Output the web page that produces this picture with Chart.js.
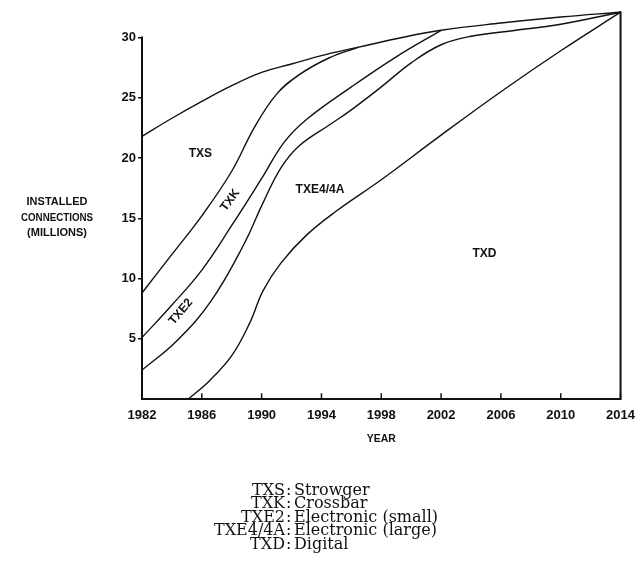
<!DOCTYPE html>
<html>
<head>
<meta charset="utf-8">
<script src="https://cdn.jsdelivr.net/npm/chart.js@4.4.1/dist/chart.umd.min.js"></script>
<style>
  html, body { margin: 0; padding: 0; background: #fff; }
  #wrap { width: 644px; height: 566px; position: relative; }
</style>
</head>
<body>
<div id="wrap"><canvas id="chart" width="644" height="566"></canvas></div>
<script>
// tick labels
const xTicks = [1982, 1986, 1990, 1994, 1998, 2002, 2006, 2010, 2014];
const yTicks = [5, 10, 15, 20, 25, 30];

// boundary curves between the exchange types (millions of connections, cumulative)
// top curve = total installed connections
const totalYears = [1982, 1984, 1986, 1988, 1990, 1992, 1994, 1996.5, 1999, 2002, 2006, 2010, 2014];
const totalValues = [21.8, 23.3, 24.7, 26.0, 27.1, 27.8, 28.5, 29.2, 29.9, 30.6, 31.2, 31.7, 32.1];

// TXS / TXK boundary (meets the total around 1996)
const txkYears = [1982, 1984, 1986, 1988, 1989.5, 1991, 1992.5, 1994.5, 1996.5];
const txkValues = [8.8, 12.0, 15.2, 18.9, 22.5, 25.3, 26.9, 28.3, 29.2];

// TXK / TXE2 boundary (meets the total around 2002)
const txe2Years = [1982, 1984, 1986, 1988, 1990, 1991.5, 1993, 1996, 1999, 2002];
const txe2Values = [5.1, 7.8, 10.7, 14.4, 18.3, 21.3, 23.2, 25.9, 28.4, 30.6];

// TXE2 / TXE4 boundary
const txe4Years = [1982, 1984.3, 1986.6, 1988.8, 1990.1, 1991.3, 1992.5, 1994.6, 1996, 1998, 2000, 2002, 2004, 2007, 2010, 2014];
const txe4Values = [2.4, 4.8, 8.1, 12.8, 16.3, 19.2, 21.0, 22.8, 24.0, 25.9, 27.9, 29.4, 30.1, 30.6, 31.1, 32.1];

// TXE4 / TXD boundary
const txdYears = [1985.1, 1986.5, 1988, 1989.2, 1990.1, 1991.3, 1993, 1995, 1998, 2002, 2006, 2010, 2014];
const txdValues = [0, 1.5, 3.6, 6.3, 9.0, 11.3, 13.6, 15.6, 18.2, 21.9, 25.5, 28.9, 32.1];

// region names and the key underneath
const regionLabels = ['TXS', 'TXK', 'TXE2', 'TXE4/4A', 'TXD'];
const legendCodes = ['TXS', 'TXK', 'TXE2', 'TXE4/4A', 'TXD'];
const legendNames = ['Strowger', 'Crossbar', 'Electronic (small)', 'Electronic (large)', 'Digital'];

const SANS = '"Liberation Sans", Arial, sans-serif';
const SERIF = '"DejaVu Serif", "Liberation Serif", serif';

function toPoints(xs, ys) {
  return xs.map((x, i) => ({ x: x, y: ys[i] }));
}

function makeLine(xs, ys) {
  return {
    data: toPoints(xs, ys),
    borderColor: '#111',
    borderWidth: 1.4,
    pointRadius: 0,
    fill: false,
    tension: 0.4,
  };
}

// axes, inward x ticks, region names, y title and the key
const decorations = {
  id: 'decorations',
  afterDatasetsDraw(chart) {
    const ctx = chart.ctx;
    const xs = chart.scales.x;
    const ys = chart.scales.y;
    const bottom = ys.getPixelForValue(0);

    ctx.save();
    ctx.strokeStyle = '#111';
    ctx.lineCap = 'square';

    // axis lines
    ctx.lineWidth = 2;
    ctx.beginPath();
    ctx.moveTo(xs.getPixelForValue(1982), ys.getPixelForValue(30));
    ctx.lineTo(xs.getPixelForValue(1982), bottom);
    ctx.lineTo(xs.getPixelForValue(2014), bottom);
    ctx.lineTo(xs.getPixelForValue(2014), ys.getPixelForValue(totalValues[totalValues.length - 1]));
    ctx.stroke();

    // x ticks point up into the plot
    ctx.lineWidth = 1.5;
    xTicks.forEach(v => {
      const px = xs.getPixelForValue(v);
      ctx.beginPath();
      ctx.moveTo(px, bottom);
      ctx.lineTo(px, bottom - 5);
      ctx.stroke();
    });

    ctx.fillStyle = '#111';
    ctx.textAlign = 'center';
    ctx.textBaseline = 'middle';

    // region names (anchored in data coordinates)
    const anchors = [[1985.9, 20.4, 0], [1987.9, 16.5, -54], [1984.6, 7.25, -50], [1993.9, 17.4, 0], [2004.9, 12.1, 0]];
    ctx.font = 'bold 12px ' + SANS;
    regionLabels.forEach((t, i) => {
      const a = anchors[i];
      ctx.save();
      ctx.translate(xs.getPixelForValue(a[0]), ys.getPixelForValue(a[1]));
      ctx.rotate(a[2] * Math.PI / 180);
      ctx.fillText(t, 0, 0);
      ctx.restore();
    });

    // y title, three lines at the left
    ctx.font = 'bold 11px ' + SANS;
    ctx.fillText('INSTALLED', 57, 202, 62);
    ctx.fillText('CONNECTIONS', 57, 218, 72);
    ctx.fillText('(MILLIONS)', 57, 233, 61);

    // x title
    ctx.fillText('YEAR', xs.getPixelForValue(1998), 439, 29);

    // key under the chart
    ctx.font = '16px ' + SERIF;
    ctx.textBaseline = 'alphabetic';
    legendCodes.forEach((code, i) => {
      const y = 495 + i * 13.4;
      ctx.textAlign = 'right';
      ctx.fillText(code, 285, y);
      ctx.textAlign = 'left';
      ctx.fillText(':', 286, y);
      ctx.fillText(legendNames[i], 294, y);
    });
    ctx.restore();
  }
};

new Chart(document.getElementById('chart'), {
  type: 'line',
  data: {
    datasets: [
      makeLine(totalYears, totalValues),
      makeLine(txkYears, txkValues),
      makeLine(txe2Years, txe2Values),
      makeLine(txe4Years, txe4Values),
      makeLine(txdYears, txdValues),
    ]
  },
  options: {
    responsive: false,
    animation: false,
    layout: { padding: { top: 7, right: 23, left: 0, bottom: 0 } },
    plugins: {
      legend: { display: false },
      tooltip: { enabled: false },
    },
    scales: {
      x: {
        type: 'linear',
        min: 1982,
        max: 2014,
        afterBuildTicks: scale => { scale.ticks = xTicks.map(v => ({ value: v })); },
        afterFit: scale => { scale.height = 167; },
        border: { display: false },
        grid: { display: false, drawTicks: false },
        ticks: {
          padding: 9,
          maxRotation: 0,
          autoSkip: false,
          color: '#111',
          font: { family: SANS, weight: 'bold', size: 13 },
          callback: v => String(v),
        },
      },
      y: {
        type: 'linear',
        min: 0,
        max: 32.3,
        afterBuildTicks: scale => { scale.ticks = yTicks.map(v => ({ value: v })); },
        afterFit: scale => { scale.width = 142; },
        border: { display: false },
        grid: {
          drawOnChartArea: false,
          drawTicks: true,
          tickLength: 4,
          color: '#111',
          lineWidth: 1.5,
        },
        ticks: {
          padding: 2,
          color: '#111',
          font: { family: SANS, weight: 'bold', size: 13 },
          callback: v => String(v),
        },
      },
    },
  },
  plugins: [decorations],
});
</script>
</body>
</html>
